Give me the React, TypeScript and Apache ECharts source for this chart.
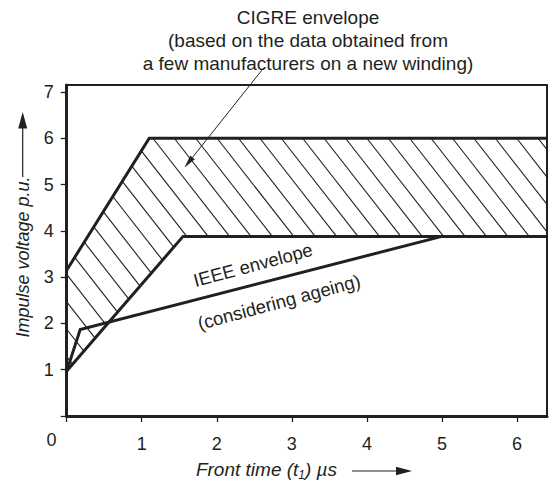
import React, { useEffect, useRef } from "react";
import * as echarts from "echarts";

// ---- axes ----
const X_MAX = 6.4;
const Y_MAX = 7.15;
const xTickValues = [0, 1, 2, 3, 4, 5, 6];
const xLabelValues = [1, 2, 3, 4, 5, 6];
const yTickValues = [0, 1, 2, 3, 4, 5, 6, 7];
const yLabelValues = [1, 2, 3, 4, 5, 6, 7];

// ---- envelopes (front time µs, impulse voltage p.u.) ----
const cigreUpper = [
  [0, 3.15],
  [1.1, 6.0],
  [6.4, 6.0],
];
const cigreLower = [
  [0, 0.97],
  [1.55, 3.88],
  [6.4, 3.88],
];
const ieeeEnvelope = [
  [0, 0.97],
  [0.18, 1.87],
  [5.0, 3.88],
];

// annotation arrow (data coords)
const arrowFrom = [2.6, 7.47];
const arrowTo = [1.576, 5.38];
const hatchAnchor = [4.285, 6.0];

const INK = "#231f20";
const FONT = "Liberation Sans, Arial, sans-serif";
const HATCH_ANGLE_DEG = 52;
const HATCH_H_SPACING = 21.4;

const hatchPolygon = [...cigreUpper, ...cigreLower.slice().reverse()];

function renderHatch(_params: any, api: any) {
  const poly = hatchPolygon.map((p) => api.coord(p));
  const th = (HATCH_ANGLE_DEG * Math.PI) / 180;
  const d = [Math.cos(th), Math.sin(th)];
  const n = [-Math.sin(th), Math.cos(th)];
  const gap = HATCH_H_SPACING * Math.sin(th);
  const anchor = api.coord(hatchAnchor);
  const c0 = n[0] * anchor[0] + n[1] * anchor[1];
  const proj = poly.map((p: number[]) => n[0] * p[0] + n[1] * p[1]);
  const cmin = Math.min(...proj);
  const cmax = Math.max(...proj);
  const k0 = Math.ceil((cmin - c0) / gap);
  const k1 = Math.floor((cmax - c0) / gap);
  const children: any[] = [];
  for (let k = k0; k <= k1; k++) {
    const c = c0 + k * gap;
    const hits: any[] = [];
    for (let i = 0; i < poly.length; i++) {
      const j = (i + 1) % poly.length;
      const a = poly[i];
      const b = poly[j];
      const sa = proj[i] - c;
      const sb = proj[j] - c;
      if (sa < 0 !== sb < 0) {
        const t = sa / (sa - sb);
        const x = a[0] + t * (b[0] - a[0]);
        const y = a[1] + t * (b[1] - a[1]);
        hits.push({ s: d[0] * x + d[1] * y, x, y });
      }
    }
    hits.sort((p, q) => p.s - q.s);
    for (let m = 0; m + 1 < hits.length; m += 2) {
      children.push({
        type: "line",
        shape: { x1: hits[m].x, y1: hits[m].y, x2: hits[m + 1].x, y2: hits[m + 1].y },
        style: { stroke: INK, lineWidth: 1.1 },
      });
    }
  }
  // annotation arrow
  const f = api.coord(arrowFrom);
  const t = api.coord(arrowTo);
  const len = Math.hypot(t[0] - f[0], t[1] - f[1]);
  const u = [(t[0] - f[0]) / len, (t[1] - f[1]) / len];
  const headLen = 12;
  const headHalf = 2.6;
  const base = [t[0] - u[0] * headLen, t[1] - u[1] * headLen];
  const perp = [-u[1], u[0]];
  children.push({
    type: "line",
    shape: { x1: f[0], y1: f[1], x2: base[0], y2: base[1] },
    style: { stroke: INK, lineWidth: 1 },
  });
  children.push({
    type: "polygon",
    shape: {
      points: [
        [t[0], t[1]],
        [base[0] + perp[0] * headHalf, base[1] + perp[1] * headHalf],
        [base[0] - perp[0] * headHalf, base[1] - perp[1] * headHalf],
      ],
    },
    style: { fill: INK, stroke: INK, lineWidth: 0.5 },
  });
  return { type: "group", children };
}

const lineSeries = (data: number[][]) => ({
  type: "line",
  data,
  symbol: "none",
  silent: true,
  z: 3,
  lineStyle: { color: INK, width: 3, join: "miter" },
});

const textStyle = (size: number, italic = false) => ({
  fill: INK,
  fontSize: size,
  fontFamily: FONT,
  fontStyle: italic ? "italic" : "normal",
  align: "center",
  verticalAlign: "middle",
});

const option: any = {
  animation: false,
  backgroundColor: "#ffffff",
  grid: {
    left: 66.7,
    right: 3,
    top: 85,
    bottom: 66,
    show: true,
    borderColor: INK,
    borderWidth: 2,
    backgroundColor: "transparent",
  },
  xAxis: {
    type: "value",
    min: 0,
    max: X_MAX,
    interval: 1,
    splitLine: { show: false },
    axisLine: { show: true, lineStyle: { color: INK, width: 3 } },
    axisTick: { show: true, length: 6, customValues: xTickValues, lineStyle: { color: INK, width: 1.3 } },
    axisLabel: {
      customValues: xLabelValues,
      margin: 19,
      color: INK,
      fontSize: 18,
      fontFamily: FONT,
    },
  },
  yAxis: {
    type: "value",
    min: 0,
    max: Y_MAX,
    interval: 1,
    splitLine: { show: false },
    axisLine: { show: true, lineStyle: { color: INK, width: 3 } },
    axisTick: { show: true, length: 6, customValues: yTickValues, lineStyle: { color: INK, width: 1.3 } },
    axisLabel: {
      customValues: yLabelValues,
      margin: 13,
      color: INK,
      fontSize: 18,
      fontFamily: FONT,
    },
  },
  series: [
    {
      type: "custom",
      renderItem: renderHatch,
      data: [[0, 0]],
      clip: false,
      silent: true,
      z: 2,
    },
    lineSeries(cigreUpper),
    lineSeries(cigreLower),
    lineSeries(ieeeEnvelope),
  ],
  graphic: [
    { type: "text", x: 308, y: 17, style: { text: "CIGRE envelope", ...textStyle(19) } },
    { type: "text", x: 308, y: 40, style: { text: "(based on the data obtained from", ...textStyle(19) } },
    { type: "text", x: 308, y: 63, style: { text: "a few manufacturers on a new winding)", ...textStyle(19) } },
    {
      type: "text",
      x: 253,
      y: 265,
      rotation: (15 * Math.PI) / 180,
      style: { text: "IEEE envelope", ...textStyle(18.5) },
    },
    {
      type: "text",
      x: 279,
      y: 302,
      rotation: (15 * Math.PI) / 180,
      style: { text: "(considering ageing)", ...textStyle(18.5) },
    },
    { type: "text", x: 51.5, y: 439.5, style: { text: "0", ...textStyle(18) } },
    {
      type: "text",
      x: 23,
      y: 257,
      rotation: Math.PI / 2,
      style: { text: "Impulse voltage p.u.", ...textStyle(18, true) },
    },
    { type: "line", shape: { x1: 22.7, y1: 177, x2: 22.7, y2: 127 }, style: { stroke: INK, lineWidth: 1.2 } },
    {
      type: "polygon",
      shape: { points: [[22.7, 112], [18.2, 128.5], [27.2, 128.5]] },
      style: { fill: INK },
    },
    {
      type: "text",
      x: 266.5,
      y: 469,
      style: {
        text: "{i|Front time (t}{s|1}{i|) µs}",
        align: "center",
        verticalAlign: "middle",
        rich: {
          i: { fill: INK, fontSize: 19, fontFamily: FONT, fontStyle: "italic", lineHeight: 23 },
          s: { fill: INK, fontSize: 12, fontFamily: FONT, fontStyle: "italic", lineHeight: 12, verticalAlign: "bottom" },
        },
      },
    },
    { type: "line", shape: { x1: 352, y1: 471, x2: 397, y2: 471 }, style: { stroke: INK, lineWidth: 1.2 } },
    {
      type: "polygon",
      shape: { points: [[412, 471], [396, 466.8], [396, 475.2]] },
      style: { fill: INK },
    },
  ],
};

export default function App() {
  const ref = useRef<HTMLDivElement>(null);
  useEffect(() => {
    const chart = echarts.init(ref.current!, null, { renderer: "svg" });
    chart.setOption(option);
    return () => chart.dispose();
  }, []);
  return (
    <div
      ref={ref}
      style={{ width: 550, height: 482, position: "absolute", left: 0, top: 0, background: "#fff" }}
    />
  );
}
